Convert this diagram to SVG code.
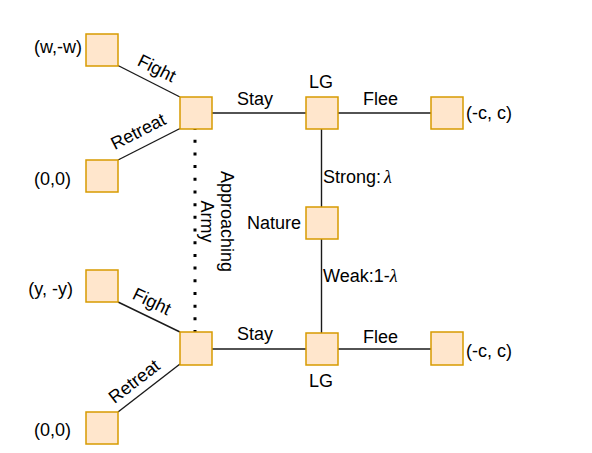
<svg xmlns="http://www.w3.org/2000/svg" width="592" height="453" viewBox="0 0 592 453">
<style>
.box{fill:#ffe6cc;stroke:#d79b00;stroke-width:1.5}
.ln{stroke:#1a1a1a;stroke-width:1.4;fill:none}
.dot{stroke:#000;stroke-width:3;stroke-dasharray:3 9.69;fill:none}
text{font-family:"Liberation Sans",Arial,sans-serif;font-size:18px;fill:#000}
.m{text-anchor:middle}
.e{text-anchor:end}
.lam{font-family:"Liberation Serif","Times New Roman",serif;font-style:italic}
</style>
<rect width="592" height="453" fill="#fff"/>
<g id="connectors">
<line class="ln" x1="118" y1="65.5" x2="180" y2="97"/>
<line class="ln" x1="118" y1="160" x2="180" y2="128.5"/>
<line class="ln" x1="212" y1="113" x2="306" y2="113"/>
<line class="ln" x1="338" y1="113" x2="431" y2="113"/>
<line class="ln" x1="321.5" y1="129" x2="321.5" y2="207"/>
<line class="ln" x1="321.5" y1="239" x2="321.5" y2="333"/>
<line class="ln" x1="118" y1="302" x2="180" y2="332"/>
<line class="ln" x1="118" y1="412" x2="180" y2="364"/>
<line class="ln" x1="212" y1="349" x2="306" y2="349"/>
<line class="ln" x1="338" y1="349" x2="431" y2="349"/>
<line class="dot" x1="195" y1="127" x2="195" y2="333"/>
<text transform="translate(157,68) rotate(26.6)" class="m" y="6.5">Fight</text>
<text transform="translate(138,131) rotate(-27)" class="m" y="6.5">Retreat</text>
<text transform="translate(152,301) rotate(25.8)" class="m" y="6.5">Fight</text>
<text transform="translate(134,381) rotate(-37.7)" class="m" y="6.5">Retreat</text>
<text x="255" y="104.5" class="m">Stay</text>
<text x="380.5" y="104.5" class="m">Flee</text>
<text x="255" y="340" class="m">Stay</text>
<text x="380.5" y="343" class="m">Flee</text>
<text x="323" y="182.5">Strong:<tspan class="lam" dx="3">λ</tspan></text>
<text x="323" y="282">Weak:1-<tspan class="lam">λ</tspan></text>
<g transform="translate(221,221.5) rotate(90)">
<text class="m" x="0" y="0">Approaching</text>
<text class="m" x="0" y="20.5">Army</text>
</g>
</g>
<g id="n_ww"><rect class="box" x="86" y="34" width="32" height="32"/><text x="82" y="53" class="e">(w,-w)</text></g>
<g id="n_00a"><rect class="box" x="86" y="160" width="32" height="32"/><text x="71" y="185" class="e">(0,0)</text></g>
<g id="n_d1"><rect class="box" x="180" y="97" width="32" height="32"/></g>
<g id="n_lg1"><rect class="box" x="306" y="97" width="32" height="32"/><text x="321" y="88" class="m">LG</text></g>
<g id="n_cc1"><rect class="box" x="431" y="97" width="32" height="32"/><text x="466" y="119">(-c, c)</text></g>
<g id="n_nature"><rect class="box" x="306" y="207" width="32" height="32"/><text x="301" y="229" class="e">Nature</text></g>
<g id="n_yy"><rect class="box" x="86" y="270" width="32" height="32"/><text x="73" y="295" class="e">(y, -y)</text></g>
<g id="n_00b"><rect class="box" x="86" y="412" width="32" height="32"/><text x="71" y="436" class="e">(0,0)</text></g>
<g id="n_d2"><rect class="box" x="180" y="332" width="32" height="33"/></g>
<g id="n_lg2"><rect class="box" x="306" y="333" width="32" height="32"/><text x="321" y="386.5" class="m">LG</text></g>
<g id="n_cc2"><rect class="box" x="431" y="332" width="32" height="33"/><text x="466" y="356.5">(-c, c)</text></g>
</svg>
